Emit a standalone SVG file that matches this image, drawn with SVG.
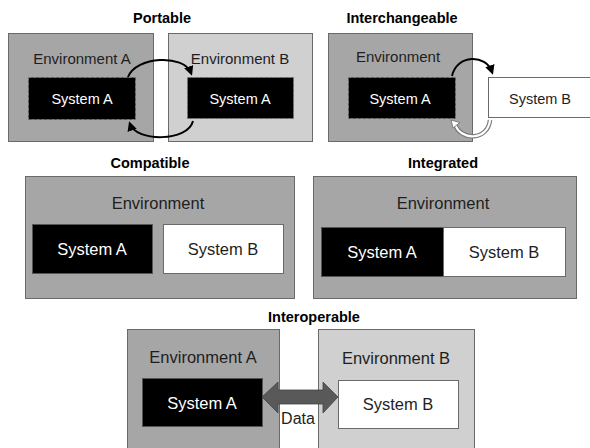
<svg xmlns="http://www.w3.org/2000/svg" width="590" height="448" viewBox="0 0 590 448">
  <style>
    .title { font-family: "Liberation Sans", Arial, sans-serif; font-weight: bold; font-size: 14.5px; fill: #000; text-anchor: middle; }
    .lbl { font-family: "Liberation Sans", Arial, sans-serif; fill: #1e1e1e; text-anchor: middle; }
    .env-dark { fill: #a6a6a6; stroke: #6a6a6a; stroke-width: 1; }
    .env-light { fill: #d0d0d0; stroke: #6a6a6a; stroke-width: 1; }
    .sys-a { fill: #000; stroke: #555; stroke-width: 1; }
    .sys-a-dash { fill: #000; stroke: #777; stroke-width: 1; stroke-dasharray: 3 2; }
    .sys-b { fill: #fff; stroke: #6a6a6a; stroke-width: 1; }
    .wtxt { fill: #fff; }
    .arc { fill: none; stroke: #000; stroke-width: 2; }
  </style>
  <defs>
    <marker id="head" viewBox="0 0 10 10" refX="7" refY="5" markerWidth="4.8" markerHeight="4.8" orient="auto">
      <path d="M0,0 L10,5 L0,10 Z" fill="#000"/>
    </marker>
  </defs>

  <rect width="590" height="448" fill="#fff"/>

  <!-- Portable -->
  <text class="title" x="162" y="23">Portable</text>
  <g id="portable-env-a">
    <rect class="env-dark" x="8.5" y="33.5" width="145" height="108"/>
    <text class="lbl" x="82" y="64" font-size="15">Environment A</text>
  </g>
  <g id="portable-env-b">
    <rect class="env-light" x="168.5" y="33.5" width="144" height="108"/>
    <text class="lbl" x="240" y="64" font-size="15">Environment B</text>
  </g>
  <g id="portable-sys-a1">
    <rect class="sys-a-dash" x="28.5" y="77.5" width="107" height="42"/>
    <text class="lbl wtxt" x="82" y="104" font-size="14.5">System A</text>
  </g>
  <g id="portable-sys-a2">
    <rect class="sys-a-dash" x="187.5" y="77.5" width="106" height="41"/>
    <text class="lbl wtxt" x="240" y="104" font-size="14.5">System A</text>
  </g>

  <!-- Interchangeable -->
  <text class="title" x="402" y="23">Interchangeable</text>
  <g id="inter-env">
    <rect class="env-dark" x="328.5" y="33.5" width="144" height="108"/>
    <text class="lbl" x="398" y="62" font-size="15">Environment</text>
  </g>
  <g id="inter-sys-a">
    <rect class="sys-a-dash" x="348.5" y="77.5" width="107" height="41"/>
    <text class="lbl wtxt" x="400" y="104" font-size="14.5">System A</text>
  </g>
  <g id="inter-sys-b">
    <rect class="sys-b" x="488.5" y="77.5" width="110" height="40"/>
    <text class="lbl" x="540" y="104" font-size="14.5">System B</text>
  </g>

  <!-- Compatible -->
  <text class="title" x="150" y="168">Compatible</text>
  <g id="compat-env">
    <rect class="env-dark" x="25.5" y="176.5" width="269" height="122"/>
    <text class="lbl" x="158" y="209" font-size="16.5">Environment</text>
  </g>
  <g id="compat-sys-a">
    <rect class="sys-a" x="32.5" y="224.5" width="120" height="49"/>
    <text class="lbl wtxt" x="92" y="255" font-size="16.5">System A</text>
  </g>
  <g id="compat-sys-b">
    <rect class="sys-b" x="163.5" y="224.5" width="120" height="49"/>
    <text class="lbl" x="223" y="255" font-size="16.5">System B</text>
  </g>

  <!-- Integrated -->
  <text class="title" x="443" y="168">Integrated</text>
  <g id="integ-env">
    <rect class="env-dark" x="313.5" y="176.5" width="263" height="122"/>
    <text class="lbl" x="443" y="209" font-size="16.5">Environment</text>
  </g>
  <g id="integ-sys-a">
    <rect class="sys-a" x="321.5" y="227.5" width="122" height="49"/>
    <text class="lbl wtxt" x="382" y="258" font-size="16.5">System A</text>
  </g>
  <g id="integ-sys-b">
    <rect class="sys-b" x="443.5" y="227.5" width="122" height="49"/>
    <text class="lbl" x="504" y="258" font-size="16.5">System B</text>
  </g>

  <!-- Interoperable -->
  <text class="title" x="314" y="322">Interoperable</text>
  <g id="interop-env-a">
    <rect class="env-dark" x="127.5" y="329.5" width="152" height="130"/>
    <text class="lbl" x="203" y="363" font-size="16.5">Environment A</text>
  </g>
  <g id="interop-env-b">
    <rect class="env-light" x="318.5" y="329.5" width="156" height="130"/>
    <text class="lbl" x="396" y="364" font-size="16.5">Environment B</text>
  </g>
  <g id="interop-sys-a">
    <rect class="sys-a" x="142.5" y="378.5" width="120" height="48"/>
    <text class="lbl wtxt" x="202" y="409" font-size="16.5">System A</text>
  </g>
  <g id="interop-sys-b">
    <rect class="sys-b" x="338.5" y="380.5" width="120" height="48"/>
    <text class="lbl" x="398" y="410" font-size="16.5">System B</text>
  </g>

  <!-- connectors -->
  <g id="connectors">
    <!-- Portable: move over and back -->
    <path class="arc" marker-end="url(#head)" d="M128,77 C136,56 184,54 191,73"/>
    <path class="arc" marker-end="url(#head)" d="M193,121 C188,142 136,142 130,124"/>
    <!-- Interchangeable: swap out and back -->
    <path class="arc" marker-end="url(#head)" d="M452,76 C457,54 486,54 492,72"/>
    <path d="M490,120 C488,141 460,141 455,124" fill="none" stroke="#7a7a7a" stroke-width="4.5"/>
    <path d="M490,120 C488,141 460,141 455,124" fill="none" stroke="#fff" stroke-width="2.2"/>
    <path d="M451,120 L460,122.5 L453,128 Z" fill="#fff" stroke="#7a7a7a" stroke-width="1"/>
    <!-- Interoperable: data exchange -->
    <path d="M262,397 L278,382 L278,390 L323,390 L323,382 L338,397 L323,413 L323,404 L278,404 L278,413 Z" fill="#595959" stroke="#444" stroke-width="0.8"/>
    <text class="lbl" x="298" y="424" font-size="16" fill="#000">Data</text>
  </g>
</svg>
